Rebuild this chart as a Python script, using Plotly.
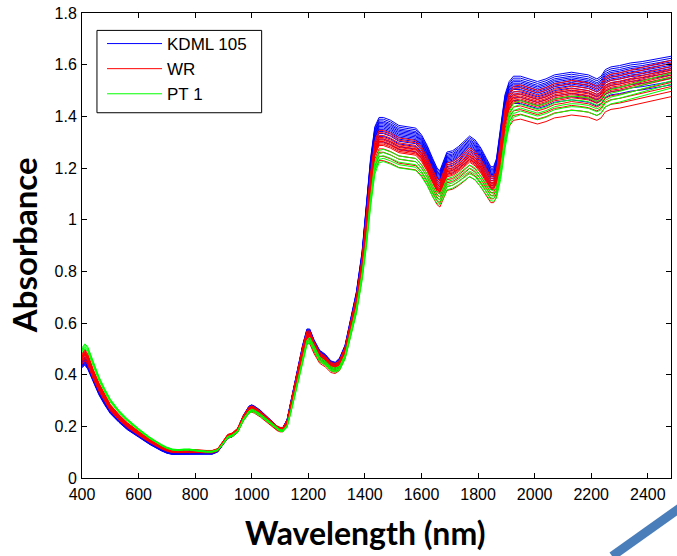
import plotly.graph_objects as go

wavelength = [400, 410, 420, 440, 460, 480, 500, 530, 560, 600, 640, 680, 700, 720, 740, 760, 780, 800, 820, 840,
              860, 880, 900, 915, 930, 950, 970, 990, 1000, 1010, 1030, 1050, 1070, 1090, 1100, 1110, 1125, 1140,
              1160, 1180, 1195, 1205, 1220, 1240, 1260, 1280, 1295, 1310, 1330, 1350, 1370, 1390, 1405, 1420, 1435,
              1450, 1465, 1490, 1520, 1550, 1580, 1600, 1620, 1640, 1655, 1665, 1675, 1690, 1710, 1730, 1750, 1770,
              1790, 1810, 1830, 1845, 1855, 1865, 1880, 1895, 1910, 1925, 1950, 1980, 2010, 2040, 2070, 2100, 2130,
              2160, 2190, 2220, 2235, 2250, 2270, 2300, 2340, 2380, 2420, 2460, 2482]

# group mean spectra
kdml_mean = [0.445, 0.455, 0.44, 0.385, 0.335, 0.295, 0.26, 0.225, 0.195, 0.165, 0.135, 0.11, 0.1, 0.095, 0.095,
             0.097, 0.098, 0.097, 0.096, 0.095, 0.096, 0.105, 0.135, 0.16, 0.165, 0.185, 0.235, 0.27, 0.275, 0.27,
             0.255, 0.235, 0.215, 0.195, 0.19, 0.19, 0.22, 0.3, 0.4, 0.5, 0.56, 0.56, 0.52, 0.48, 0.465, 0.44, 0.435,
             0.45, 0.5, 0.6, 0.7, 0.85, 1.02, 1.2, 1.32, 1.355, 1.355, 1.345, 1.325, 1.32, 1.315, 1.29, 1.25, 1.2,
             1.165, 1.155, 1.185, 1.225, 1.23, 1.245, 1.265, 1.285, 1.27, 1.24, 1.2, 1.17, 1.17, 1.2, 1.32, 1.44,
             1.49, 1.51, 1.51, 1.5, 1.49, 1.5, 1.515, 1.52, 1.525, 1.52, 1.515, 1.5, 1.51, 1.535, 1.545, 1.55, 1.56,
             1.565, 1.573, 1.58, 1.585]
wr_mean = [0.465, 0.48, 0.465, 0.405, 0.355, 0.312, 0.275, 0.238, 0.207, 0.175, 0.145, 0.12, 0.11, 0.104, 0.104,
           0.106, 0.107, 0.105, 0.104, 0.103, 0.103, 0.11, 0.14, 0.163, 0.168, 0.186, 0.233, 0.265, 0.27, 0.265,
           0.25, 0.232, 0.213, 0.194, 0.189, 0.189, 0.215, 0.29, 0.39, 0.49, 0.55, 0.55, 0.51, 0.47, 0.455, 0.432,
           0.428, 0.44, 0.49, 0.585, 0.68, 0.82, 0.97, 1.14, 1.26, 1.3, 1.3, 1.29, 1.272, 1.268, 1.262, 1.238, 1.2,
           1.152, 1.12, 1.11, 1.14, 1.178, 1.183, 1.197, 1.215, 1.235, 1.22, 1.192, 1.155, 1.128, 1.128, 1.15,
           1.26, 1.38, 1.44, 1.465, 1.47, 1.46, 1.45, 1.46, 1.475, 1.48, 1.487, 1.483, 1.478, 1.465, 1.475, 1.5,
           1.51, 1.515, 1.525, 1.537, 1.547, 1.557, 1.562]
pt_mean = [0.495, 0.51, 0.5, 0.44, 0.385, 0.34, 0.3, 0.258, 0.225, 0.188, 0.155, 0.128, 0.117, 0.11, 0.108, 0.11,
           0.11, 0.107, 0.104, 0.102, 0.102, 0.108, 0.135, 0.158, 0.163, 0.18, 0.225, 0.255, 0.262, 0.258, 0.244,
           0.227, 0.208, 0.19, 0.184, 0.183, 0.2, 0.265, 0.36, 0.46, 0.525, 0.535, 0.5, 0.46, 0.445, 0.423, 0.418,
           0.425, 0.47, 0.555, 0.65, 0.78, 0.91, 1.07, 1.2, 1.245, 1.25, 1.24, 1.225, 1.22, 1.215, 1.19, 1.155,
           1.11, 1.085, 1.08, 1.1, 1.138, 1.145, 1.158, 1.175, 1.19, 1.178, 1.15, 1.118, 1.095, 1.093, 1.105,
           1.18, 1.3, 1.39, 1.425, 1.435, 1.425, 1.415, 1.425, 1.44, 1.447, 1.452, 1.45, 1.445, 1.432, 1.44, 1.465,
           1.478, 1.485, 1.497, 1.51, 1.522, 1.533, 1.54]

# relative level of each individual sample within its group
kdml_levels = [1.03, 1.025, 1.02, 1.016, 1.012, 1.008, 1.004, 1.0, 0.996, 0.99, 0.984, 0.976, 0.968, 0.96]
wr_levels = [1.035, 1.028, 1.02, 1.014, 1.01, 1.006, 1.002, 0.998, 0.994, 0.99, 0.98, 0.97, 0.958, 0.945]
pt_levels = [1.018, 1.008, 0.998, 0.99, 0.98]

groups = [
    ("KDML 105", "#0000ff", kdml_mean, kdml_levels),
    ("WR", "#ff0000", wr_mean, wr_levels),
    ("PT 1", "#00ff00", pt_mean, pt_levels),
]

fig = go.Figure()
for name, color, mean, levels in groups:
    for i, lv in enumerate(levels):
        fig.add_trace(go.Scatter(
            x=wavelength, y=[v * lv for v in mean], mode="lines",
            line=dict(color=color, width=1), name=name, legendgroup=name,
            showlegend=(i == 0), hoverinfo="skip"))

axis_common = dict(showline=True, linecolor="black", linewidth=1, mirror="ticks", ticks="inside",
                   ticklen=5, tickcolor="black", showgrid=False, zeroline=False,
                   tickfont=dict(family="Liberation Sans, Arial", size=16, color="black"))

fig.update_layout(
    width=677, height=556,
    margin=dict(l=82, r=5, t=10, b=78),
    paper_bgcolor="white", plot_bgcolor="white",
    xaxis=dict(range=[400, 2482], tickvals=list(range(400, 2401, 200)), ticklabelstandoff=2, **axis_common),
    yaxis=dict(range=[0, 1.8], tickvals=[0, 0.2, 0.4, 0.6, 0.8, 1, 1.2, 1.4, 1.6, 1.8],
               ticktext=["0", "0.2", "0.4", "0.6", "0.8", "1", "1.2", "1.4", "1.6", "1.8"],
               ticklabelstandoff=1, **axis_common),
    legend=dict(x=0.034, y=0.972, xanchor="left", yanchor="top", bgcolor="rgba(0,0,0,0)",
                borderwidth=0, font=dict(family="Liberation Sans, Arial", size=17, color="black"),
                itemwidth=55, traceorder="grouped", tracegroupgap=0),
    showlegend=True,
    annotations=[
        dict(text="<b>Wavelength (nm)</b>", xref="paper", yref="paper", x=0.4797, y=-0.1174,
             xanchor="center", yanchor="middle", showarrow=False,
             font=dict(family="Lato", size=32, color="black")),
        dict(text="<b>Absorbance</b>", xref="paper", yref="paper", x=-0.099, y=0.5, textangle=-90,
             xanchor="center", yanchor="middle", showarrow=False,
             font=dict(family="Lato", size=33, color="black")),
    ],
    shapes=[
        dict(type="rect", xref="paper", yref="paper", x0=0.0254, x1=0.305, y0=0.7855, y1=0.9626,
             line=dict(color="black", width=1), fillcolor="rgba(0,0,0,0)", layer="above"),
        dict(type="line", xref="paper", yref="paper", x0=0.9, y0=-0.168, x1=1.02, y1=-0.06,
             line=dict(color="#4a7ebb", width=9), layer="above"),
    ],
)

fig.write_html("out.html")
